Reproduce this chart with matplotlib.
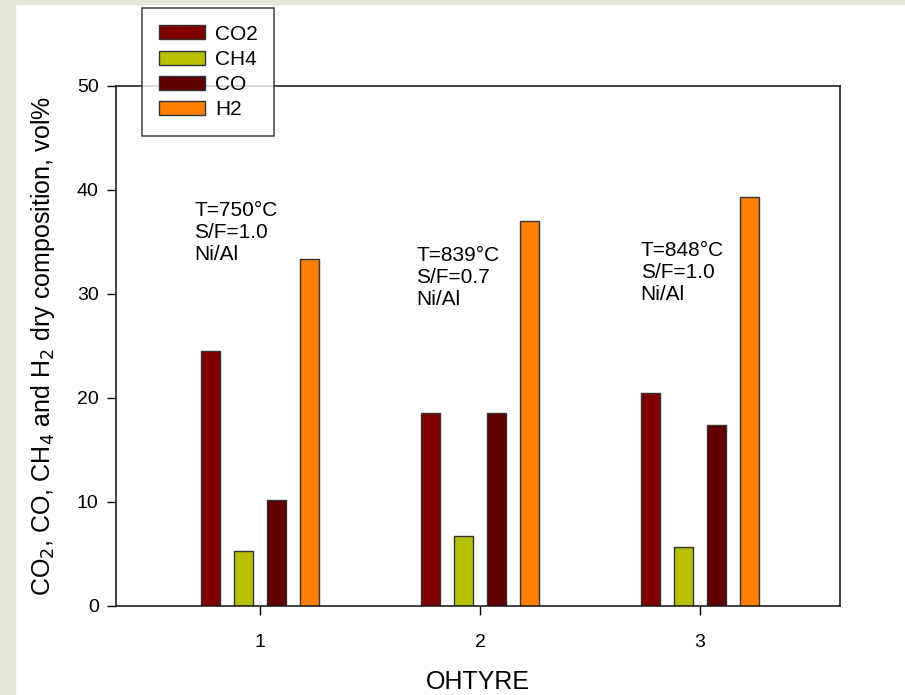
import numpy as np
import matplotlib
matplotlib.use('Agg')
import matplotlib.pyplot as plt
import matplotlib.patches as mpatches

plt.rcParams['font.family'] = ['Liberation Sans', 'DejaVu Sans']

runs = [1, 2, 3]
gases = ['CO2', 'CH4', 'CO', 'H2']
co2 = [24.5, 18.6, 20.5]
ch4 = [5.3, 6.7, 5.7]
co = [10.2, 18.6, 17.4]
h2 = [33.4, 37.0, 39.3]
notes = ['T=750°C\nS/F=1.0\nNi/Al', 'T=839°C\nS/F=0.7\nNi/Al', 'T=848°C\nS/F=1.0\nNi/Al']
note_x = [0.70, 1.71, 2.73]
note_y = [38.9, 34.6, 35.1]

colors = ['#800000', '#b8c000', '#600000', '#ff8000']
series = [co2, ch4, co, h2]
offsets = [-0.225, -0.075, 0.075, 0.225]

fig = plt.figure(figsize=(9.05, 6.95), dpi=100)
# beige frame on left and top
fig.patches.append(mpatches.Rectangle((0, 0), 15 / 905, 1, transform=fig.transFigure,
                                      color='#e6e6d8', zorder=0))
fig.patches.append(mpatches.Rectangle((0, 1 - 4 / 695), 1, 4 / 695, transform=fig.transFigure,
                                      color='#e6e6d8', zorder=0))

ax = fig.add_axes([116 / 905, 1 - 606 / 695, 724 / 905, 520 / 695])
x = np.array(runs, dtype=float)
for vals, off, col, name in zip(series, offsets, colors, gases):
    ax.bar(x + off, vals, width=0.09, color=col, edgecolor='#333333', linewidth=1, label=name)

for xx, yy, t in zip(note_x, note_y, notes):
    ax.text(xx, yy, t, fontsize=15, va='top', ha='left', linespacing=1.2)

ax.set_xlim(0.345, 3.636)
ax.set_ylim(0, 50)
ax.set_xticks(runs)
ax.set_yticks([0, 10, 20, 30, 40, 50])
ax.tick_params(axis='both', labelsize=14, direction='out', length=6.5, width=1)
ax.tick_params(axis='y', pad=6)
ax.tick_params(axis='x', pad=14)
ax.tick_params(top=False, right=False)
for s in ax.spines.values():
    s.set_linewidth(1.2)
    s.set_color('#222222')

ax.set_xlabel('OHTYRE', fontsize=18, labelpad=13)
ax.set_ylabel('CO$_2$, CO, CH$_4$ and H$_2$ dry composition, vol%', fontsize=18, labelpad=14)

handles = [mpatches.Patch(facecolor=c, edgecolor='#333333', label=g) for c, g in zip(colors, gases)]
leg = fig.legend(handles=handles, loc='upper left', bbox_to_anchor=(142 / 905, 1 - 8 / 695),
                 fontsize=15, frameon=True, fancybox=False, edgecolor='#222222',
                 handlelength=2.2, handleheight=0.67, labelspacing=0.3, borderpad=0.8,
                 handletextpad=0.5, borderaxespad=0)
leg.get_frame().set_linewidth(1.2)
leg.set_zorder(10)

fig.savefig('out.png', dpi=100)
